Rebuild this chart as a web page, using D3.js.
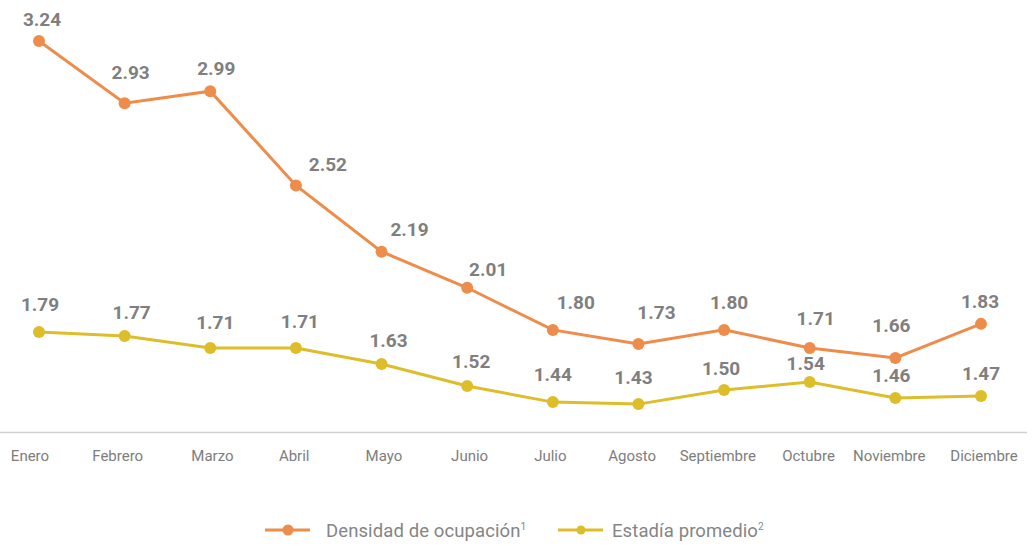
<!DOCTYPE html>
<html>
<head>
<meta charset="utf-8">
<script src="https://cdn.jsdelivr.net/npm/d3@7"></script>
<style>
  body { margin: 0; background: #fff; }
  text { font-family: Roboto, "Noto Sans", sans-serif; }
</style>
</head>
<body>
<script>
(function() {

    var months = ["Enero", "Febrero", "Marzo", "Abril", "Mayo", "Junio", "Julio",
                  "Agosto", "Septiembre", "Octubre", "Noviembre", "Diciembre"];
    var densidad = [3.24, 2.93, 2.99, 2.52, 2.19, 2.01, 1.80, 1.73, 1.80, 1.71, 1.66, 1.83];
    var estadia = [1.79, 1.77, 1.71, 1.71, 1.63, 1.52, 1.44, 1.43, 1.50, 1.54, 1.46, 1.47];
    var seriesNames = ["Densidad de ocupación", "Estadía promedio"];
    var seriesSup = ["1", "2"];

    // label nudges (layout only)
    var densDx = [3, 6, 6, 32, 28, 21, 23, 18, 5, 6, -4, -1];
    var densDy = [-15, -24, -16, -14, -16, -12, -21, -25, -21, -23, -26, -16];
    var estDx = [1, 7, 5, 4, 7, 4, 0, -5, -3, -4, -4, 0];
    var estDy = [-21, -17, -19, -20, -17, -18, -21, -20, -15, -12, -16, -16];
    var monthDx = [0, 1, 9, 4, 7, 6, 0, -5, -6, -2, -8, 0];

    var colors = ["#EE8C4B", "#DDBD2A"];

    var width = 1035, height = 546;

    var svg = d3.select("body")
        .append("svg")
        .attr("width", width)
        .attr("height", height);

    var x = d3.scalePoint()
        .domain(months)
        .range([39, 981]);

    var xLabel = d3.scalePoint()
        .domain(months)
        .range([30, 984]);

    var y = d3.scaleLinear()
        .domain([0, 3.24])
        .range([691, 41]);

    // baseline axis
    svg.append("line")
        .attr("x1", 0).attr("x2", 1027)
        .attr("y1", 432.5).attr("y2", 432.5)
        .attr("stroke", "#d0d0d0")
        .attr("stroke-width", 1.5);

    svg.selectAll(".month")
        .data(months)
        .enter()
        .append("text")
        .attr("class", "month")
        .attr("x", function(d, i){ return xLabel(d) + monthDx[i]; })
        .attr("y", 461)
        .attr("text-anchor", "middle")
        .attr("font-size", 15)
        .attr("fill", "#7d7d7d")
        .text(function(d){ return d; });

    var line = d3.line()
        .x(function(d, i){ return x(months[i]); })
        .y(function(d){ return y(d); });

    function drawSeries(values, color, r, dxs, dys) {
        svg.append("path")
            .datum(values)
            .attr("d", line)
            .attr("fill", "none")
            .attr("stroke", color)
            .attr("stroke-width", 3);

        svg.selectAll(null)
            .data(values)
            .enter()
            .append("circle")
            .attr("cx", function(d, i){ return x(months[i]); })
            .attr("cy", function(d){ return y(d); })
            .attr("r", r)
            .attr("fill", color);

        svg.selectAll(null)
            .data(values)
            .enter()
            .append("text")
            .attr("x", function(d, i){ return x(months[i]) + dxs[i]; })
            .attr("y", function(d, i){ return y(d) + dys[i]; })
            .attr("text-anchor", "middle")
            .attr("font-size", 19)
            .attr("font-weight", "bold")
            .attr("fill", "#7f7f7f")
            .text(function(d){ return d.toFixed(2); });
    }

    drawSeries(estadia, colors[1], 6, estDx, estDy);
    drawSeries(densidad, colors[0], 6, densDx, densDy);

    // legend
    var legendX = [265, 558];
    var legend = svg.selectAll(".legend")
        .data(seriesNames)
        .enter()
        .append("g")
        .attr("class", "legend")
        .attr("transform", function(d, i){ return "translate(" + legendX[i] + ",530)"; });

    legend.append("line")
        .attr("x1", 0).attr("x2", 45)
        .attr("stroke", function(d, i){ return colors[i]; })
        .attr("stroke-width", 3);

    legend.append("circle")
        .attr("cx", 23)
        .attr("r", function(d, i){ return i === 0 ? 5.5 : 4.5; })
        .attr("fill", function(d, i){ return colors[i]; });

    var lt = legend.append("text")
        .attr("x", function(d, i){ return i === 0 ? 61 : 54; })
        .attr("y", 6.5)
        .attr("font-size", 18.5)
        .attr("letter-spacing", 0.1)
        .attr("fill", "#858585");

    lt.append("tspan").text(function(d){ return d; });
    lt.append("tspan")
        .attr("dy", -7)
        .attr("font-size", 10)
        .text(function(d, i){ return seriesSup[i]; });

})();
</script>
</body>
</html>
